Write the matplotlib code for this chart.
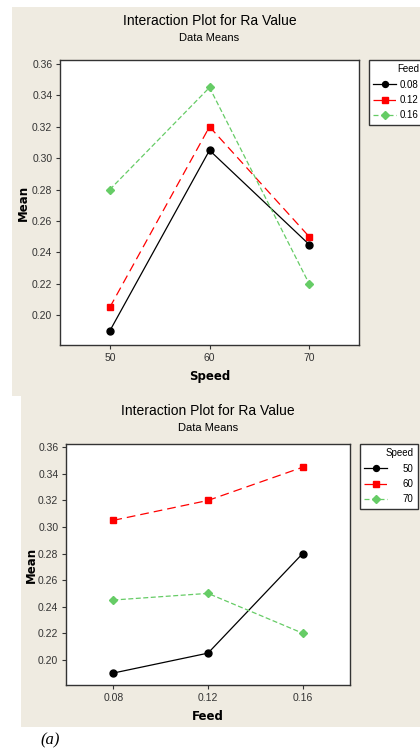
import matplotlib.pyplot as plt
from matplotlib.patches import Rectangle

# data
speed = [50, 60, 70]
feed = [0.08, 0.12, 0.16]
feed_labels = ['0.08', '0.12', '0.16']
speed_labels = ['50', '60', '70']

# mean Ra for each feed level, across speed
mean_f008 = [0.190, 0.305, 0.245]
mean_f012 = [0.205, 0.320, 0.250]
mean_f016 = [0.280, 0.345, 0.220]

# mean Ra for each speed level, across feed
mean_s50 = [0.190, 0.205, 0.280]
mean_s60 = [0.305, 0.320, 0.345]
mean_s70 = [0.245, 0.250, 0.220]

yticks = [0.20, 0.22, 0.24, 0.26, 0.28, 0.30, 0.32, 0.34, 0.36]

W, H = 420, 749
BG = '#efebe1'
GREEN = '#66cc66'
plt.rcParams['font.family'] = ['Liberation Sans', 'DejaVu Sans']

styles = [
    dict(color='black', ls='-', marker='o', ms=5, lw=0.9),
    dict(color='red', ls=(0, (7, 4)), marker='s', ms=5, lw=0.9),
    dict(color=GREEN, ls=(0, (4, 2)), marker='D', ms=4.5, lw=0.9),
]


def box(x0, y0, x1, y1):
    return [x0 / W, 1 - y1 / H, (x1 - x0) / W, (y1 - y0) / H]


def draw_panel(fig, rect, xs, series, labels, xticklabels, xlim, xlabel,
               legend_title, legend_xy, textpad, title_y, mean_x):
    ax = fig.add_axes(box(*rect))
    for ys, lab, st in zip(series, labels, styles):
        ax.plot(xs, ys, label=lab, **st)
    ax.set_xlim(*xlim)
    ax.set_ylim(0.181, 0.3625)
    ax.set_xticks(xs)
    ax.set_xticklabels(xticklabels)
    ax.set_yticks(yticks)
    ax.set_yticklabels(['%.2f' % v for v in yticks])
    ax.tick_params(labelsize=7.5, length=3, width=0.8, colors='#333333', pad=2.5)
    for s in ax.spines.values():
        s.set_linewidth(1.0)
        s.set_color('#333333')
    ax.set_xlabel(xlabel, fontsize=8.5, fontweight='bold', family='DejaVu Sans', labelpad=5)
    fig.text(mean_x / W, 1 - ((rect[1] + rect[3]) / 2) / H, 'Mean', rotation=90,
             ha='center', va='center', fontsize=8.5, fontweight='bold', family='DejaVu Sans')
    cx = (rect[0] + rect[2]) / 2 / W
    fig.text(cx, 1 - title_y / H, 'Interaction Plot for Ra Value',
             ha='center', va='center', fontsize=10)
    fig.text(cx, 1 - (title_y + 17) / H, 'Data Means', ha='center', va='center', fontsize=8)
    leg = ax.legend(loc='upper left', bbox_to_anchor=(legend_xy[0] / W, 1 - legend_xy[1] / H),
                    bbox_transform=fig.transFigure, borderaxespad=0, title=legend_title,
                    fontsize=7, title_fontsize=7, frameon=True, fancybox=False,
                    edgecolor='#333333', framealpha=1, handlelength=2.3,
                    handletextpad=textpad, labelspacing=0.55, borderpad=0.45,
                    alignment='right', markerscale=0.85)
    leg.get_frame().set_linewidth(1.0)
    return ax


fig = plt.figure(figsize=(W / 100, H / 100), dpi=100)
fig.patch.set_facecolor('white')
fig.add_artist(Rectangle((12 / W, 1 - 396 / H), (W - 12) / W, (396 - 7) / H,
                         transform=fig.transFigure, facecolor=BG, edgecolor='none', zorder=-10))
fig.add_artist(Rectangle((21 / W, 1 - 727 / H), (W - 21) / W, (727 - 396) / H,
                         transform=fig.transFigure, facecolor=BG, edgecolor='none', zorder=-10))

draw_panel(fig, (60, 60, 359, 345), speed, [mean_f008, mean_f012, mean_f016], feed_labels,
           speed_labels, (45, 75), 'Speed', 'Feed', (369, 60), 0.45, 21, 23)
draw_panel(fig, (66, 444, 350, 685), feed, [mean_s50, mean_s60, mean_s70], speed_labels,
           feed_labels, (0.06, 0.18), 'Feed', 'Speed', (360, 444), 1.6, 411, 31)

fig.text(40 / W, 1 - 740 / H, '(a)', fontsize=12, style='italic', family='Liberation Serif',
         ha='left', va='center')

fig.savefig('out.png', dpi=100)
